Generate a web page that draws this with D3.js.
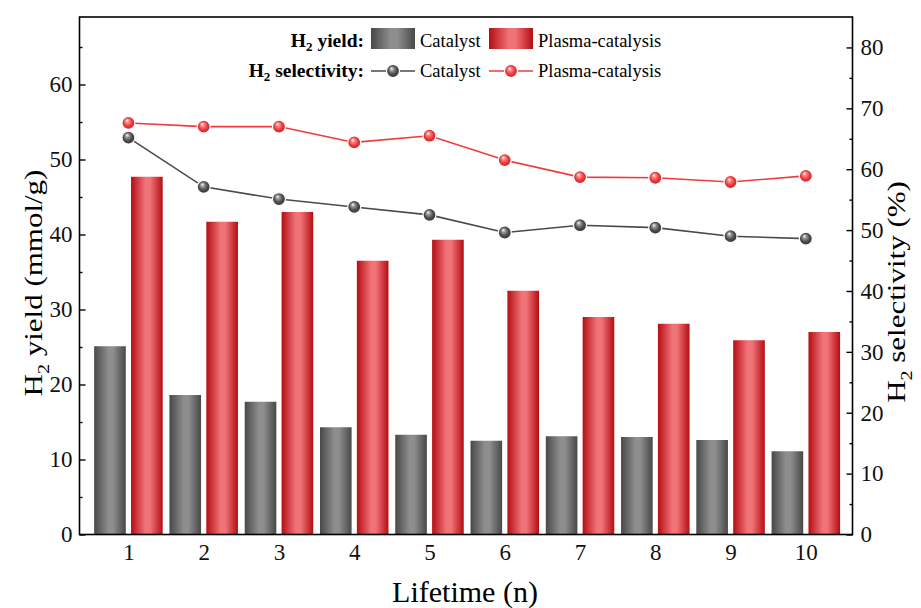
<!DOCTYPE html>
<html>
<head>
<meta charset="utf-8">
<script src="https://cdn.jsdelivr.net/npm/d3@7/dist/d3.min.js"></script>
<style>
  body { margin: 0; background: #fff; }
  svg text { font-family: "Liberation Serif", "Times New Roman", Times, serif !important; }
</style>
</head>
<body>
<svg id="chart" width="921" height="608"></svg>
<script>
// data
const cycles = [1, 2, 3, 4, 5, 6, 7, 8, 9, 10];
const yieldCatalyst = [25.1, 18.6, 17.7, 14.3, 13.3, 12.5, 13.1, 13.0, 12.6, 11.1];
const yieldPlasma = [47.7, 41.7, 43.0, 36.5, 39.3, 32.5, 29.0, 28.1, 25.9, 27.0];
const selCatalyst = [65.2, 57.1, 55.1, 53.8, 52.5, 49.6, 50.8, 50.4, 49.0, 48.6];
const selPlasma = [67.6, 67.0, 67.0, 64.4, 65.5, 61.5, 58.7, 58.6, 57.9, 58.9];
const leftTicks = [0, 10, 20, 30, 40, 50, 60];
const rightTicks = [0, 10, 20, 30, 40, 50, 60, 70, 80];

const svg = d3.select('#chart');
const m = { left: 79.5, right: 852.5, top: 17, bottom: 534.5 };

const x = d3.scaleLinear().domain([0.35, 10.62]).range([m.left, m.right]);
const yL = d3.scaleLinear().domain([0, 69]).range([m.bottom, m.top]);
const yR = d3.scaleLinear().domain([0, 85]).range([m.bottom, m.top]);

const barW = x(0.42) - x(0);
const off = x(0.245) - x(0);

// gradients
const defs = svg.append('defs');
function barGrad(id, edge, mid) {
  const g = defs.append('linearGradient').attr('id', id)
    .attr('x1', '0%').attr('x2', '100%').attr('y1', '0%').attr('y2', '0%');
  g.append('stop').attr('offset', '0%').attr('stop-color', edge);
  g.append('stop').attr('offset', '45%').attr('stop-color', mid);
  g.append('stop').attr('offset', '60%').attr('stop-color', mid);
  g.append('stop').attr('offset', '100%').attr('stop-color', edge);
}
barGrad('gGray', '#484848', '#8e8e8e');
barGrad('gRed', '#b50d12', '#f07378');

function ballGrad(id, light, base, dark) {
  const g = defs.append('radialGradient').attr('id', id)
    .attr('cx', '50%').attr('cy', '50%').attr('r', '55%')
    .attr('fx', '38%').attr('fy', '30%');
  g.append('stop').attr('offset', '0%').attr('stop-color', '#ffffff');
  g.append('stop').attr('offset', '25%').attr('stop-color', light);
  g.append('stop').attr('offset', '60%').attr('stop-color', base);
  g.append('stop').attr('offset', '100%').attr('stop-color', dark);
}
ballGrad('bGray', '#9a9a9a', '#4d4d4d', '#2e2e2e');
ballGrad('bRed', '#f88', '#ea3a3c', '#c02024');

// bars
svg.append('g').selectAll('rect')
  .data(yieldCatalyst)
  .join('rect')
  .attr('x', (d, i) => x(cycles[i]) - off - barW / 2)
  .attr('y', d => yL(d))
  .attr('width', barW)
  .attr('height', d => yL(0) - yL(d))
  .style('fill', 'url(#gGray)');

svg.append('g').selectAll('rect')
  .data(yieldPlasma)
  .join('rect')
  .attr('x', (d, i) => x(cycles[i]) + off - barW / 2)
  .attr('y', d => yL(d))
  .attr('width', barW)
  .attr('height', d => yL(0) - yL(d))
  .style('fill', 'url(#gRed)');

// selectivity lines
function drawLine(vals, col, grad) {
  const line = d3.line().x((d, i) => x(cycles[i])).y(d => yR(d));
  svg.append('path').datum(vals)
    .attr('d', line)
    .style('fill', 'none')
    .style('stroke', col)
    .style('stroke-width', 1.6);
  svg.append('g').selectAll('circle')
    .data(vals)
    .join('circle')
    .attr('cx', (d, i) => x(cycles[i]))
    .attr('cy', d => yR(d))
    .attr('r', 6.5)
    .style('fill', `url(#${grad})`)
    .style('stroke', '#fff')
    .style('stroke-width', 1.2);
}
drawLine(selCatalyst, '#4a4a4a', 'bGray');
drawLine(selPlasma, '#ef3b3d', 'bRed');

// frame
svg.append('rect')
  .attr('x', m.left).attr('y', m.top)
  .attr('width', m.right - m.left).attr('height', m.bottom - m.top)
  .style('fill', 'none').style('stroke', '#000').style('stroke-width', 1.6);

// left axis (ticks inward)
const axL = svg.append('g').attr('transform', `translate(${m.left},0)`)
  .call(d3.axisRight(yL).tickValues(leftTicks).tickSize(6).tickFormat(d3.format('d')));
axL.select('.domain').remove();
axL.selectAll('text').attr('x', -7).attr('text-anchor', 'end')
  .style('font-size', '23px').attr('fill', '#111');
axL.selectAll('line').style('stroke-width', 1.4);
svg.append('g').attr('transform', `translate(${m.left},0)`)
  .call(d3.axisRight(yL).tickValues(d3.range(5, 69, 10)).tickSize(3).tickFormat(''))
  .call(g => g.select('.domain').remove())
  .selectAll('line').style('stroke-width', 1.4);

// right axis
const axR = svg.append('g').attr('transform', `translate(${m.right},0)`)
  .call(d3.axisLeft(yR).tickValues(rightTicks).tickSize(6).tickFormat(d3.format('d')));
axR.select('.domain').remove();
axR.selectAll('text').attr('x', 8).attr('text-anchor', 'start')
  .style('font-size', '23px').attr('fill', '#111');
axR.selectAll('line').style('stroke-width', 1.4);
svg.append('g').attr('transform', `translate(${m.right},0)`)
  .call(d3.axisLeft(yR).tickValues(d3.range(5, 85, 10)).tickSize(3).tickFormat(''))
  .call(g => g.select('.domain').remove())
  .selectAll('line').style('stroke-width', 1.4);

// bottom axis labels
const axB = svg.append('g').attr('transform', `translate(0,${m.bottom})`)
  .call(d3.axisBottom(x).tickValues(cycles).tickSize(0).tickFormat(d3.format('d')));
axB.select('.domain').remove();
axB.selectAll('text').attr('y', 9)
  .style('font-size', '23px').attr('fill', '#111');

// axis titles
svg.append('text')
  .attr('x', 465).attr('y', 602)
  .attr('text-anchor', 'middle')
  .style('font-size', '30px')
  .text('Lifetime (n)');

const tl = svg.append('text')
  .attr('transform', 'translate(42,283) rotate(-90) scale(1,0.82)')
  .attr('text-anchor', 'middle')
  .style('font-size', '31px');
tl.append('tspan').text('H');
tl.append('tspan').attr('dy', 8).style('font-size', '20px').text('2');
tl.append('tspan').attr('dy', -8).text(' yield (mmol/g)');

const tr = svg.append('text')
  .attr('transform', 'translate(905,292) rotate(-90) scale(1,0.82)')
  .attr('text-anchor', 'middle')
  .style('font-size', '31px');
tr.append('tspan').text('H');
tr.append('tspan').attr('dy', 8).style('font-size', '20px').text('2');
tr.append('tspan').attr('dy', -8).text(' selectivity (%)');

// legend
const lg = svg.append('g');
function legTitle(y, rest) {
  const t = lg.append('text').attr('x', 364).attr('y', y)
    .attr('text-anchor', 'end')
    .style('font-size', '19.5px').style('font-weight', 'bold');
  t.append('tspan').text('H');
  t.append('tspan').attr('dy', 4).style('font-size', '13px').text('2');
  t.append('tspan').attr('dy', -4).text(rest);
}
legTitle(47, ' yield:');
legTitle(77, ' selectivity:');

const legItems = [
  { x: 371, fill: 'url(#gGray)', line: '#4a4a4a', ball: 'bGray', name: 'Catalyst' },
  { x: 489, fill: 'url(#gRed)', line: '#ef3b3d', ball: 'bRed', name: 'Plasma-catalysis' }
];
legItems.forEach(it => {
  lg.append('rect').attr('x', it.x).attr('y', 28).attr('width', 44).attr('height', 21)
    .style('fill', it.fill);
  lg.append('text').attr('x', it.x + 49).attr('y', 47).style('font-size', '18.5px').text(it.name);
  lg.append('line').attr('x1', it.x).attr('x2', it.x + 44).attr('y1', 71).attr('y2', 71)
    .style('stroke', it.line).style('stroke-width', 1.6);
  lg.append('circle').attr('cx', it.x + 22).attr('cy', 71).attr('r', 6.5)
    .style('fill', `url(#${it.ball})`).style('stroke', '#fff').style('stroke-width', 1.2);
  lg.append('text').attr('x', it.x + 49).attr('y', 77).style('font-size', '18.5px').text(it.name);
});
</script>
</body>
</html>
